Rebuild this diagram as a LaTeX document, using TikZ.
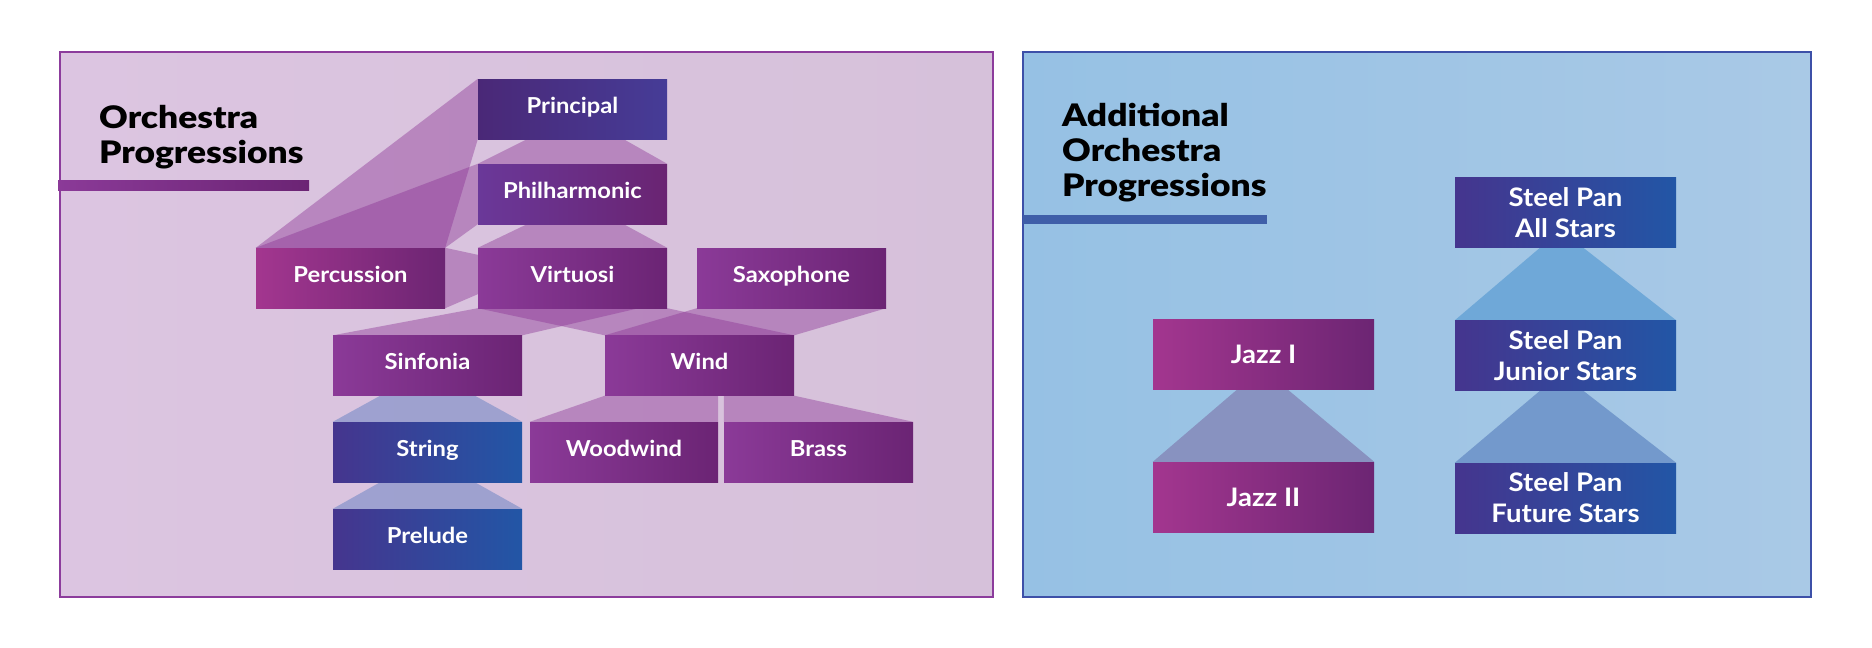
\documentclass[tikz,border=0pt]{standalone}
\usepackage{fontspec}
\setmainfont{Lato}
\newfontfamily\titlefont{Lato Black}[FakeStretch=1.14]
\newfontfamily\labelfont{Lato}[FakeStretch=1.08]
\usetikzlibrary{calc}
\definecolor{panelL}{HTML}{DCC5E1}
\definecolor{panelR}{HTML}{D6C1DA}
\definecolor{panelLB}{HTML}{96C1E4}
\definecolor{panelRB}{HTML}{A9C9E6}
\definecolor{borderP}{HTML}{8C3C9C}
\definecolor{borderB}{HTML}{3D50A8}
\definecolor{purL}{HTML}{8B3A98}
\definecolor{purR}{HTML}{6B2474}
\definecolor{magL}{HTML}{A3368F}
\definecolor{magR}{HTML}{6C2573}
\definecolor{indL}{HTML}{4A2877}
\definecolor{indR}{HTML}{463C97}
\definecolor{phL}{HTML}{6A3899}
\definecolor{phR}{HTML}{6A2472}
\definecolor{bluL}{HTML}{45358E}
\definecolor{bluR}{HTML}{2256A6}
\definecolor{bandP}{HTML}{8A3294}
\definecolor{bandB}{HTML}{6480C2}
\definecolor{jazzband}{HTML}{8892C0}
\definecolor{steelA}{HTML}{6FA8D8}
\definecolor{steelB}{HTML}{7399CC}
\definecolor{barB}{HTML}{3F5EA8}
\pgfdeclarelayer{bg}
\pgfdeclarelayer{bands}
\pgfsetlayers{bg,bands,main}
\tikzset{
  box/.style={minimum width=189pt, minimum height=60pt, inner sep=0pt, text=white,
    text height=12pt, text depth=4pt,
    font=\fontsize{22}{24}\selectfont\labelfont\bfseries},
  rbox/.style={minimum width=221pt, minimum height=70pt, inner sep=0pt, text=white, align=center,
    font=\fontsize{25.5}{31}\selectfont\labelfont\bfseries},
  purbox/.style={left color=purL, right color=purR},
  magbox/.style={left color=magL, right color=magR},
  indbox/.style={left color=indL, right color=indR},
  phbox/.style={left color=phL, right color=phR},
  blubox/.style={left color=bluL, right color=bluR},
  band/.style={fill=bandP, fill opacity=0.42},
  bandblue/.style={fill=bandB, fill opacity=0.5},
  title/.style={anchor=north west, inner sep=0pt, align=left, text=black,
    font=\fontsize{31}{35}\selectfont\titlefont},
}
\begin{document}
\begin{tikzpicture}[x=1pt,y=-1pt]
\useasboundingbox (0,0) rectangle (1872,648);
% ---------- boxes ----------
\node[box, indbox] (principal)    at (572.5,109)   {Principal};
\node[box, phbox]  (philharmonic) at (572.5,194)   {Philharmonic};
\node[box, magbox] (percussion)   at (350.5,278)   {Percussion};
\node[box, purbox] (virtuosi)     at (572.5,278)   {Virtuosi};
\node[box, purbox] (saxophone)    at (791.5,278)   {Saxophone};
\node[box, purbox] (sinfonia)     at (427.5,365.5) {Sinfonia};
\node[box, purbox] (wind)         at (699.5,365.5) {Wind};
\node[box, blubox] (string)       at (427.5,452)   {String};
\node[box, purbox, minimum width=188pt] (woodwind) at (624,452) {Woodwind};
\node[box, purbox] (brass)        at (818.5,452)   {Brass};
\node[box, blubox] (prelude)      at (427.5,539)   {Prelude};
\node[rbox, magbox] (jazz1)  at (1263.5,354.5) {Jazz I};
\node[rbox, magbox] (jazz2)  at (1263.5,497)   {Jazz II};
\node[rbox, blubox] (allstars)    at (1565.5,212.5) {Steel Pan\\All Stars};
\node[rbox, blubox] (juniorstars) at (1565.5,355.5) {Steel Pan\\Junior Stars};
\node[rbox, blubox] (futurestars) at (1565.5,498)   {Steel Pan\\Future Stars};
% ---------- titles ----------
\node[title] (t1) at (99,105)   {Orchestra\\Progressions};
\node[title] (t2) at (1062,103) {Additional\\Orchestra\\Progressions};
% ---------- panels ----------
\begin{pgfonlayer}{bg}
  \fill[white] (0,0) rectangle (1872,648);
  \path[left color=panelL, right color=panelR] (60,52) rectangle (993,597);
  \draw[line width=2.7pt, borderP] (60,52) rectangle (993,597);
  \path[left color=panelLB, right color=panelRB] (1023,52) rectangle (1811,597);
  \draw[line width=2.7pt, borderB] (1023,52) rectangle (1811,597);
  \path[left color=purL, right color=purR] (58,180) rectangle (309,190);
  \fill[barB] (1023,215) rectangle (1267,224);
\end{pgfonlayer}
% ---------- bands ----------
\begin{pgfonlayer}{bands}
  \fill[band] (percussion.north west) -- (principal.north west) -- (principal.south west) -- (percussion.north east) -- cycle;
  \fill[band] (percussion.north west) -- (philharmonic.north west) -- (philharmonic.south west) -- (percussion.north east) -- cycle;
  \fill[band] (percussion.north east) -- ($(virtuosi.north west)+(0,7)$) -- ($(virtuosi.south west)+(0,-14)$) -- (percussion.south east) -- cycle;
  \fill[band] ($(principal.south west)!0.26!(principal.south east)$) -- ($(principal.south west)!0.77!(principal.south east)$) -- (philharmonic.north east) -- (philharmonic.north west) -- cycle;
  \fill[band] ($(philharmonic.south west)!0.26!(philharmonic.south east)$) -- ($(philharmonic.south west)!0.77!(philharmonic.south east)$) -- (virtuosi.north east) -- (virtuosi.north west) -- cycle;
  \fill[band] (virtuosi.south west) -- ($(virtuosi.south west)!0.85!(virtuosi.south east)$) -- (sinfonia.north east) -- (sinfonia.north west) -- cycle;
  \fill[band] (virtuosi.south west) -- (virtuosi.south east) -- (wind.north east) -- (wind.north west) -- cycle;
  \fill[band] (saxophone.south west) -- (saxophone.south east) -- (wind.north east) -- (wind.north west) -- cycle;
  \fill[band] (wind.south west) -- (wind.south west -| woodwind.east) -- (woodwind.north east) -- (woodwind.north west) -- cycle;
  \fill[band] (wind.south west -| brass.west) -- (wind.south east) -- (brass.north east) -- (brass.north west) -- cycle;
  \fill[bandblue] ($(sinfonia.south west)!0.25!(sinfonia.south east)$) -- ($(sinfonia.south west)!0.75!(sinfonia.south east)$) -- (string.north east) -- (string.north west) -- cycle;
  \fill[bandblue] ($(string.south west)!0.25!(string.south east)$) -- ($(string.south west)!0.75!(string.south east)$) -- (prelude.north east) -- (prelude.north west) -- cycle;
  \fill[jazzband] ($(jazz1.south west)!0.38!(jazz1.south east)$) -- ($(jazz1.south west)!0.61!(jazz1.south east)$) -- (jazz2.north east) -- (jazz2.north west) -- cycle;
  \fill[steelA] ($(allstars.south west)!0.385!(allstars.south east)$) -- ($(allstars.south west)!0.58!(allstars.south east)$) -- (juniorstars.north east) -- (juniorstars.north west) -- cycle;
  \fill[steelB] ($(juniorstars.south west)!0.385!(juniorstars.south east)$) -- ($(juniorstars.south west)!0.58!(juniorstars.south east)$) -- (futurestars.north east) -- (futurestars.north west) -- cycle;
\end{pgfonlayer}
\end{tikzpicture}
\end{document}
